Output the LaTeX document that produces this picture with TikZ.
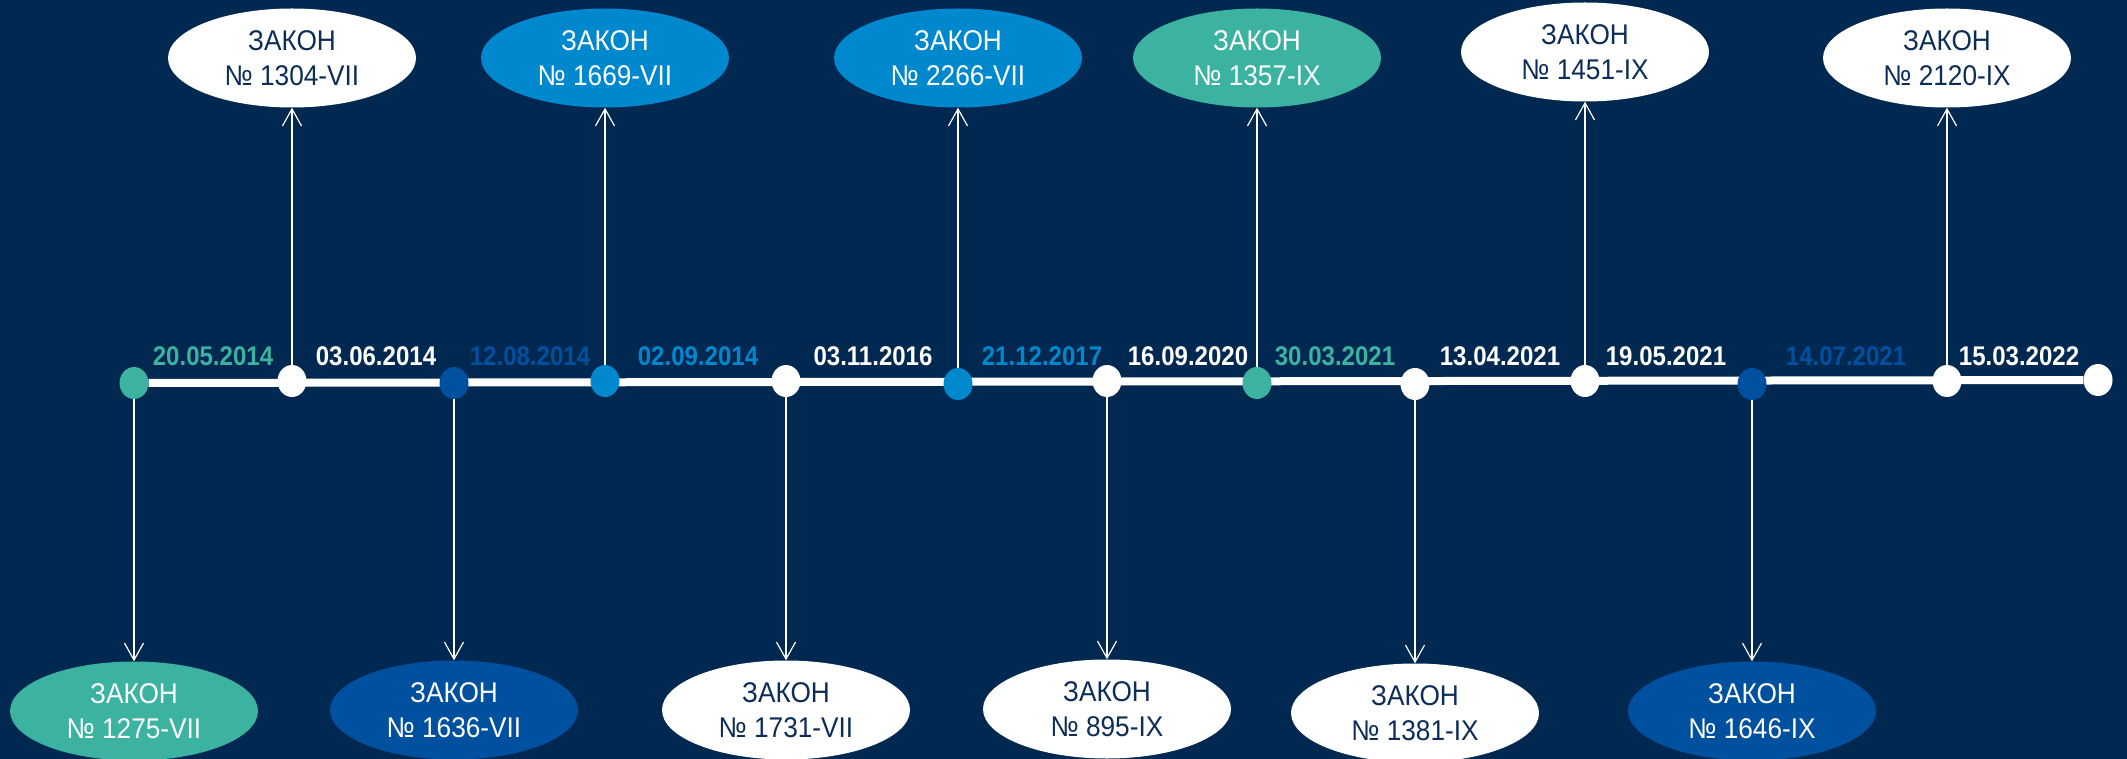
\documentclass[tikz,border=0pt]{standalone}
\usepackage{fontspec}
\setmainfont{Liberation Sans}[FakeStretch=0.92]
\newfontfamily\datefont{Liberation Sans}[FakeStretch=0.89]
\usepackage{tikz}
\usetikzlibrary{shapes.geometric,arrows.meta}
\definecolor{navy0}{HTML}{012850}
\definecolor{navy1}{HTML}{0C2D57}
\definecolor{teal1}{HTML}{3BB3A0}
\definecolor{blue1}{HTML}{0050A0}
\definecolor{blue2}{HTML}{0088CF}

\begin{document}
\begin{tikzpicture}[x=1pt, y=-1pt,
  law/.style={ellipse, minimum width=248pt, minimum height=99pt, inner sep=0pt,
    align=center, text=white, font=\fontsize{28.5}{35}\selectfont},
  lawwhite/.style={law, fill=white, text=navy1},
  dot/.style={ellipse, minimum width=29pt, minimum height=32pt, inner sep=0pt},
  date/.style={anchor=base, font=\datefont\bfseries\fontsize{27}{30}\selectfont},
  link/.style={draw=white, line width=1.2pt, -{Straight Barb[length=17pt, width=19pt]}}]
\useasboundingbox (0,0) rectangle (2127,759);
\fill[navy0] (0,0) rectangle (2127,759);

% points on the line
\node[dot, fill=teal1] (d1) at (134,383) {};
\node[dot, fill=white] (d13) at (2098,380) {};
\draw[white, line width=8pt] (d1) -- (d13);
\node[dot, fill=white] (d2) at (292,381) {};
\node[dot, fill=blue1] (d3) at (454,383) {};
\node[dot, fill=blue2] (d4) at (605,381) {};
\node[dot, fill=white] (d5) at (786,381) {};
\node[dot, fill=blue2] (d6) at (958,384) {};
\node[dot, fill=white] (d7) at (1107,381) {};
\node[dot, fill=teal1] (d8) at (1257,383) {};
\node[dot, fill=white] (d9) at (1415,384) {};
\node[dot, fill=white] (d10) at (1585,381) {};
\node[dot, fill=blue1] (d11) at (1752,384) {};
\node[dot, fill=white] (d12) at (1947,381) {};

% dates
\node[date, text=teal1] (t1) at (213,365) {20.05.2014};
\node[date, text=white] (t2) at (376,365) {03.06.2014};
\node[date, text=blue1] (t3) at (530,365) {12.08.2014};
\node[date, text=blue2] (t4) at (698,365) {02.09.2014};
\node[date, text=white] (t5) at (873,365) {03.11.2016};
\node[date, text=blue2] (t6) at (1042,365) {21.12.2017};
\node[date, text=white] (t7) at (1188,365) {16.09.2020};
\node[date, text=teal1] (t8) at (1335,365) {30.03.2021};
\node[date, text=white] (t9) at (1500,365) {13.04.2021};
\node[date, text=white] (t10) at (1666,365) {19.05.2021};
\node[date, text=blue1] (t11) at (1846,365) {14.07.2021};
\node[date, text=white] (t12) at (2019,365) {15.03.2022};

% laws above
\node[lawwhite] (e2) at (292,58) {ЗАКОН\\№ 1304-VII};
\node[law, fill=blue2] (e4) at (605,58) {ЗАКОН\\№ 1669-VII};
\node[law, fill=blue2] (e6) at (958,58) {ЗАКОН\\№ 2266-VII};
\node[law, fill=teal1] (e8) at (1257,58) {ЗАКОН\\№ 1357-IX};
\node[lawwhite] (e10) at (1585,52) {ЗАКОН\\№ 1451-IX};
\node[lawwhite] (e12) at (1947,58) {ЗАКОН\\№ 2120-IX};

% laws below
\node[law, fill=teal1] (e1) at (134,711) {ЗАКОН\\№ 1275-VII};
\node[law, fill=blue1] (e3) at (454,710) {ЗАКОН\\№ 1636-VII};
\node[lawwhite] (e5) at (786,710) {ЗАКОН\\№ 1731-VII};
\node[lawwhite] (e7) at (1107,709) {ЗАКОН\\№ 895-IX};
\node[lawwhite] (e9) at (1415,713) {ЗАКОН\\№ 1381-IX};
\node[law, fill=blue1] (e11) at (1752,711) {ЗАКОН\\№ 1646-IX};

% connectors
\draw[link] (d2) -- (e2);
\draw[link] (d4) -- (e4);
\draw[link] (d6) -- (e6);
\draw[link] (d8) -- (e8);
\draw[link] (d10) -- (e10);
\draw[link] (d12) -- (e12);
\draw[link] (d1) -- (e1);
\draw[link] (d3) -- (e3);
\draw[link] (d5) -- (e5);
\draw[link] (d7) -- (e7);
\draw[link] (d9) -- (e9);
\draw[link] (d11) -- (e11);
\end{tikzpicture}
\end{document}
